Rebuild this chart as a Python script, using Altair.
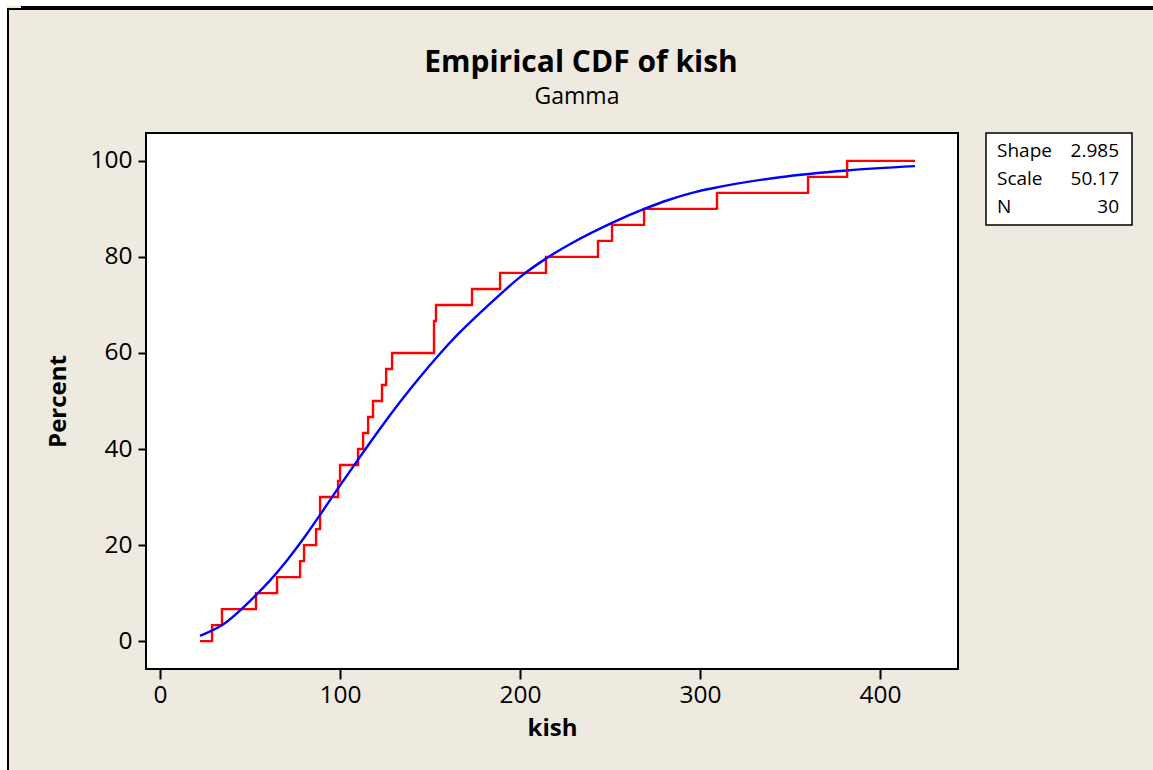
import altair as alt
import pandas as pd

# ---- data ----
kish_steps = [22.2, 28.9, 34.4, 53.3, 65.0, 77.8, 80.0, 86.7, 88.9, 98.9, 100.0,
              110.0, 112.8, 115.6, 118.3, 123.3, 125.6, 128.9, 152.2, 153.3, 173.3,
              188.9, 214.4, 243.3, 251.1, 268.9, 309.4, 360.0, 381.7, 419.4]
pct_steps = [0, 3.33, 6.67, 10, 13.33, 16.67, 20, 23.33, 30, 33.33, 36.67,
             40, 43.33, 46.67, 50, 53.33, 56.67, 60, 66.67, 70, 73.33,
             76.67, 80, 83.33, 86.67, 90, 93.33, 96.67, 100, 100]

fit_x = [22.2, 34.3, 53.3, 61.0, 70.5, 79.4, 88.9, 98.3, 110.0, 118.3, 133.3,
         143.3, 155.6, 165.0, 181.7, 200.0, 215.0, 229.4, 251.7, 270.4, 282.0,
         298.3, 307.0, 344.4, 381.7, 419.4]
fit_pct = [1.1, 3.3, 9.6, 12.6, 16.8, 21.2, 26.3, 31.5, 37.8, 42.2, 49.8,
           54.5, 59.9, 63.7, 69.7, 75.8, 79.8, 83.0, 87.2, 90.2, 91.8,
           93.6, 94.3, 96.6, 98.0, 98.9]

x_ticks = [0, 100, 200, 300, 400]
y_ticks = [0, 20, 40, 60, 80, 100]

stat_names = ["Shape", "Scale", "N"]
stat_values = ["2.985", "50.17", "30"]

title_text = "Empirical CDF of kish"
subtitle_text = "Gamma"
x_title = "kish"
y_title = "Percent"

# ---- layout ----
PL, PT = 146, 133          # plot area origin in the page
W, H = 812, 536            # plot area size
TOTAL_W, TOTAL_H = 1153, 770
FONT = "Open Sans"

xs = alt.Scale(domain=[-7.8, 443.3], nice=False, zero=False)
ys = alt.Scale(domain=[-5.8, 105.8], nice=False, zero=False)

x_axis = alt.Axis(
    values=x_ticks, title=x_title, titleFontSize=24, titleFontWeight="bold",
    titleFont=FONT, titleColor="#000000", titleY=59, titleBaseline="middle",
    tickSize=10, labelPadding=4)
y_axis = alt.Axis(
    values=y_ticks, title=y_title, titleFontSize=24, titleFontWeight="bold",
    titleFont=FONT, titleColor="#000000", titleX=-88, titleY=H / 2,
    titleAngle=270, titleBaseline="middle", titleAlign="center",
    tickSize=8, labelPadding=6)

ecdf_df = pd.DataFrame({"kish": kish_steps, "pct": pct_steps})
fit_df = pd.DataFrame({"kish": fit_x, "pct": fit_pct})
dummy = pd.DataFrame({"a": [0]})

red = alt.Chart(ecdf_df).mark_line(
    color="#FF0000", strokeWidth=2.4, interpolate="step-after"
).encode(
    x=alt.X("kish:Q", scale=xs, axis=x_axis),
    y=alt.Y("pct:Q", scale=ys, axis=y_axis),
    order="kish:Q",
)

blue = alt.Chart(fit_df).mark_line(
    color="#0000FF", strokeWidth=2.4, interpolate="monotone"
).encode(
    x=alt.X("kish:Q", scale=xs, axis=x_axis),
    y=alt.Y("pct:Q", scale=ys, axis=y_axis),
    order="kish:Q",
)


def rect(x1, x2, y1, y2, fill, stroke=None, sw=0):
    kw = dict(fill=fill, clip=False)
    if stroke:
        kw.update(stroke=stroke, strokeWidth=sw)
    return alt.Chart(dummy).mark_rect(**kw).encode(
        x=alt.value(x1 - PL), x2=alt.value(x2 - PL),
        y=alt.value(y1 - PT), y2=alt.value(y2 - PT))


decor = [
    rect(0, TOTAL_W, 0, 6, "#FFFFFF"),
    rect(0, 7, 0, TOTAL_H, "#FFFFFF"),
    rect(21, TOTAL_W, 6, 10, "#000000"),
    rect(7, 21, 8, 10, "#000000"),
    rect(7, 9, 8, TOTAL_H, "#000000"),
]

legend_box = rect(986, 1132, 133, 225, "#FFFFFF", "#000000", 1.5)

legend_texts = []
row_y = [151, 179, 207]
for name, val, yy in zip(stat_names, stat_values, row_y):
    legend_texts.append(
        alt.Chart(pd.DataFrame({"t": [name]})).mark_text(
            align="left", baseline="middle", fontSize=19, font=FONT, color="#000000"
        ).encode(text="t:N", x=alt.value(997 - PL), y=alt.value(yy - PT)))
    legend_texts.append(
        alt.Chart(pd.DataFrame({"t": [val]})).mark_text(
            align="right", baseline="middle", fontSize=19, font=FONT, color="#000000"
        ).encode(text="t:N", x=alt.value(1119 - PL), y=alt.value(yy - PT)))

title_mark = alt.Chart(pd.DataFrame({"t": [title_text]})).mark_text(
    align="center", baseline="middle", fontSize=30, fontWeight="bold", font=FONT,
    color="#000000"
).encode(text="t:N", x=alt.value(581 - PL), y=alt.value(63 - PT))

subtitle_mark = alt.Chart(pd.DataFrame({"t": [subtitle_text]})).mark_text(
    align="center", baseline="middle", fontSize=23, font=FONT, color="#000000"
).encode(text="t:N", x=alt.value(577 - PL), y=alt.value(97 - PT))

chart = alt.layer(
    red, blue, *decor, legend_box, *legend_texts, title_mark, subtitle_mark
).properties(
    width=W, height=H,
    padding={"left": PL, "top": PT, "right": TOTAL_W - PL - W, "bottom": TOTAL_H - PT - H},
    autosize=alt.AutoSizeParams(type="none"),
    background="#EEEAE0",
).configure_view(
    fill="#FFFFFF", stroke="#000000", strokeWidth=2
).configure_axis(
    grid=False, domain=False, labelFont=FONT, labelFontSize=24.5, labelColor="#000000",
    tickColor="#000000", tickWidth=2,
)

chart.save("out.html", embed_options={"renderer": "svg", "actions": False})
